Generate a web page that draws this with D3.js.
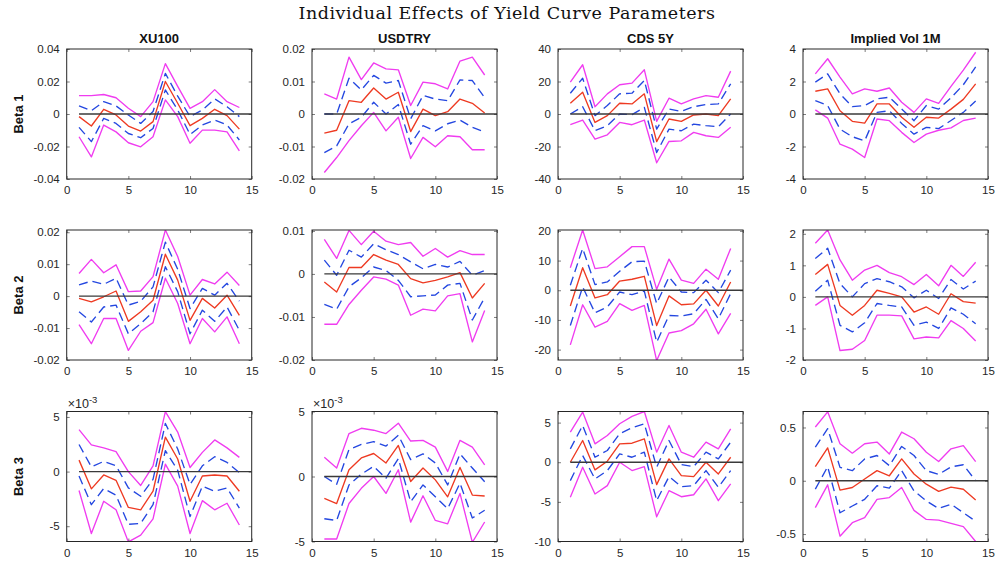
<!DOCTYPE html>
<html>
<head>
<meta charset="utf-8">
<script src="https://cdn.jsdelivr.net/npm/d3@7"></script>
<style>
  body { margin: 0; background: #fff; }
  svg { display: block; }
</style>
</head>
<body>
<svg id="chart" width="1005" height="563"></svg>
<script>
// Horizon steps (x axis)
const steps = [1, 2, 3, 4, 5, 6, 7, 8, 9, 10, 11, 12, 13, 14];

const assets = ["XU100", "USDTRY", "CDS 5Y", "Implied Vol 1M"];
const factors = ["Beta 1", "Beta 2", "Beta 3"];
const figureTitle = "Individual Effects of Yield Curve Parameters";

// Each response: [outer upper, inner upper, estimate, inner lower, outer lower]
const xu100Beta1 = [
  [0.0113, 0.0113, 0.0120, 0.0100, 0.0035, -0.0016, 0.0076, 0.0310, 0.0170, 0.0035, 0.0076, 0.0150, 0.0076, 0.0040],
  [0.0050, 0.0020, 0.0076, 0.0050, -0.0006, -0.0058, 0.0015, 0.0250, 0.0110, -0.0016, 0.0025, 0.0093, 0.0045, -0.0016],
  [-0.0016, -0.0074, 0.0029, -0.0006, -0.0074, -0.0105, -0.0047, 0.0200, 0.0066, -0.0072, -0.0027, 0.0029, -0.0010, -0.0093],
  [-0.0082, -0.0170, -0.0027, -0.0058, -0.0120, -0.0146, -0.0089, 0.0148, 0.0025, -0.0126, -0.0068, -0.0037, -0.0068, -0.0160],
  [-0.0140, -0.0264, -0.0068, -0.0110, -0.0177, -0.0202, -0.0140, 0.0087, -0.0016, -0.0180, -0.0099, -0.0099, -0.0110, -0.0227]
];
const usdtryBeta1 = [
  [0.0062, 0.0046, 0.0175, 0.0106, 0.0157, 0.0139, 0.0136, 0.0026, 0.0098, 0.0093, 0.0077, 0.0163, 0.0175, 0.0120],
  [0.0000, 0.0000, 0.0110, 0.0074, 0.0119, 0.0095, 0.0103, -0.0015, 0.0057, 0.0046, 0.0041, 0.0105, 0.0103, 0.0050],
  [-0.0059, -0.0050, 0.0041, 0.0036, 0.0080, 0.0046, 0.0067, -0.0054, 0.0015, -0.0005, 0.0007, 0.0046, 0.0033, 0.0003],
  [-0.0119, -0.0098, -0.0030, -0.0010, 0.0036, 0.0000, 0.0029, -0.0093, -0.0036, -0.0052, -0.0030, -0.0019, -0.0041, -0.0055],
  [-0.0180, -0.0134, -0.0082, -0.0036, 0.0005, -0.0052, -0.0010, -0.0137, -0.0072, -0.0101, -0.0067, -0.0070, -0.0110, -0.0110]
];
const cdsBeta1 = [
  [19.6, 30.3, 4.5, 12.4, 18.0, 19.0, 27.2, -4.5, 9.7, 6.2, 9.3, 11.3, 10.3, 26.4],
  [12.8, 22.0, -1.0, 5.2, 12.4, 12.8, 20.6, -9.3, 3.1, 1.6, 4.5, 5.8, 6.2, 18.6],
  [6.6, 13.4, -5.2, -1.0, 6.6, 6.2, 12.4, -17.0, -3.1, -4.5, -0.6, 0.0, -1.0, 9.3],
  [0.0, 4.5, -10.3, -7.2, 0.0, -0.4, 4.1, -23.7, -9.3, -10.3, -6.2, -7.2, -7.8, 0.0],
  [-6.6, -3.7, -15.5, -12.8, -5.2, -6.6, -3.7, -30.0, -16.9, -16.5, -11.3, -13.4, -14.4, -8.2]
];
const volBeta1 = [
  [2.47, 3.40, 2.27, 1.24, 1.55, 1.40, 1.60, 0.72, 0.10, 0.93, 0.65, 1.70, 2.70, 3.80],
  [1.96, 2.47, 1.24, 0.45, 0.52, 0.93, 1.03, 0.31, -0.41, 0.52, 0.30, 1.00, 1.80, 2.90],
  [1.40, 1.55, 0.20, -0.45, -0.56, 0.62, 0.62, -0.20, -0.82, -0.20, -0.25, 0.30, 0.90, 1.85],
  [0.82, 0.52, -0.93, -1.40, -1.65, 0.10, 0.20, -0.58, -1.24, -0.82, -0.90, -0.40, 0.10, 0.80],
  [0.25, -0.25, -1.86, -2.16, -2.68, -0.31, -0.41, -1.13, -1.75, -1.24, -1.00, -0.85, -0.40, -0.25]
];

const xu100Beta2 = [
  [0.0071, 0.0115, 0.0073, 0.0098, 0.0014, 0.0016, 0.0061, 0.0207, 0.0124, 0.0003, 0.0052, 0.0038, 0.0075, 0.0033],
  [0.0035, 0.0047, 0.0037, 0.0056, -0.0028, -0.0016, 0.0029, 0.0169, 0.0084, -0.0039, 0.0024, 0.0003, 0.0040, -0.0016],
  [-0.0007, -0.0018, -0.0002, 0.0016, -0.0079, -0.0049, -0.0013, 0.0131, 0.0050, -0.0076, -0.0007, -0.0037, 0.0003, -0.0060],
  [-0.0049, -0.0081, -0.0034, -0.0028, -0.0118, -0.0086, -0.0049, 0.0092, 0.0014, -0.0118, -0.0044, -0.0079, -0.0034, -0.0107],
  [-0.0089, -0.0149, -0.0070, -0.0070, -0.0170, -0.0110, -0.0083, 0.0056, -0.0023, -0.0149, -0.0070, -0.0112, -0.0065, -0.0149]
];
const usdtryBeta2 = [
  [0.0080, 0.0036, 0.0101, 0.0068, 0.0099, 0.0076, 0.0068, 0.0073, 0.0041, 0.0059, 0.0039, 0.0054, 0.0045, 0.0045],
  [0.0032, -0.0003, 0.0055, 0.0039, 0.0070, 0.0056, 0.0045, 0.0028, 0.0012, 0.0022, 0.0016, 0.0029, -0.0003, 0.0008],
  [-0.0019, -0.0042, 0.0015, 0.0015, 0.0045, 0.0032, 0.0022, -0.0011, -0.0021, -0.0015, -0.0007, 0.0003, -0.0056, -0.0022],
  [-0.0071, -0.0082, -0.0030, -0.0009, 0.0016, 0.0008, -0.0015, -0.0053, -0.0051, -0.0049, -0.0026, -0.0022, -0.0107, -0.0055],
  [-0.0117, -0.0117, -0.0071, -0.0038, -0.0007, -0.0012, -0.0026, -0.0096, -0.0082, -0.0086, -0.0051, -0.0046, -0.0158, -0.0085]
];
const cdsBeta2 = [
  [7.6, 20.3, 7.3, 7.9, 11.3, 14.7, 14.7, 0.3, 10.5, 3.4, 2.3, 7.1, 3.7, 14.1],
  [1.7, 14.1, 1.9, 2.8, 6.4, 9.6, 9.8, -4.5, 4.5, -0.6, -0.8, 3.4, -0.8, 6.8],
  [-5.3, 7.6, -2.6, -1.5, 3.1, 3.7, 4.7, -11.9, -1.9, -4.9, -4.6, 0.0, -5.3, 2.8],
  [-11.9, 1.1, -7.6, -5.6, -0.6, -1.5, -0.3, -17.5, -8.5, -8.7, -7.9, -3.1, -9.6, -1.1],
  [-18.4, -4.9, -12.4, -10.5, -4.5, -6.8, -5.1, -23.7, -14.4, -13.6, -11.3, -6.4, -14.7, -7.8]
];
const volBeta2 = [
  [1.70, 2.12, 1.17, 0.53, 0.85, 1.00, 0.77, 0.64, 0.39, 0.71, 0.35, 1.00, 0.65, 1.10],
  [1.22, 1.54, 0.42, 0.00, 0.42, 0.58, 0.48, 0.32, -0.03, 0.21, -0.05, 0.55, 0.25, 0.50],
  [0.71, 1.03, -0.27, -0.58, -0.27, 0.21, 0.11, 0.00, -0.48, -0.32, -0.55, 0.10, -0.15, -0.20],
  [0.18, 0.53, -0.90, -1.11, -0.82, -0.21, -0.27, -0.32, -0.90, -0.80, -1.00, -0.35, -0.55, -0.85],
  [-0.27, 0.00, -1.70, -1.66, -1.38, -0.58, -0.58, -0.60, -1.33, -1.27, -1.30, -0.75, -1.00, -1.40]
];

const xu100Beta3 = [
  [0.00384, 0.00245, 0.00217, 0.00183, 0.00000, -0.00127, 0.00053, 0.00548, 0.00362, 0.00037, 0.00176, 0.00290, 0.00217, 0.00130],
  [0.00248, 0.00043, 0.00093, 0.00053, -0.00149, -0.00226, -0.00071, 0.00440, 0.00207, -0.00118, 0.00053, 0.00136, 0.00084, -0.00009],
  [0.00105, -0.00158, -0.00031, -0.00080, -0.00328, -0.00350, -0.00180, 0.00316, 0.00115, -0.00272, -0.00040, -0.00031, -0.00040, -0.00180],
  [-0.00040, -0.00303, -0.00155, -0.00217, -0.00483, -0.00474, -0.00303, 0.00192, 0.00012, -0.00412, -0.00133, -0.00180, -0.00149, -0.00334],
  [-0.00173, -0.00567, -0.00272, -0.00350, -0.00644, -0.00582, -0.00433, 0.00068, -0.00133, -0.00567, -0.00266, -0.00350, -0.00290, -0.00489]
];
const usdtryBeta3 = [
  [0.00148, 0.00065, 0.00330, 0.00371, 0.00356, 0.00330, 0.00410, 0.00273, 0.00278, 0.00226, 0.00039, 0.00278, 0.00226, 0.00090],
  [0.00000, -0.00060, 0.00208, 0.00247, 0.00268, 0.00234, 0.00317, 0.00130, 0.00174, 0.00104, -0.00065, 0.00174, 0.00065, -0.00040],
  [-0.00169, -0.00208, 0.00052, 0.00143, 0.00177, 0.00104, 0.00239, -0.00039, 0.00065, -0.00026, -0.00156, 0.00070, -0.00143, -0.00150],
  [-0.00325, -0.00338, -0.00065, 0.00018, 0.00078, -0.00013, 0.00138, -0.00195, -0.00065, -0.00156, -0.00247, -0.00052, -0.00319, -0.00260],
  [-0.00481, -0.00481, -0.00208, -0.00091, 0.00000, -0.00130, 0.00052, -0.00351, -0.00148, -0.00338, -0.00364, -0.00130, -0.00506, -0.00350]
];
const cdsBeta3 = [
  [3.80, 6.33, 2.32, 3.38, 4.85, 5.78, 6.40, 1.27, 4.64, 1.27, 0.63, 2.53, 1.69, 4.22],
  [1.69, 4.64, 0.63, 1.48, 3.59, 4.35, 4.85, -0.63, 2.74, -0.30, -0.55, 1.27, 0.42, 2.53],
  [0.00, 2.74, -0.97, 0.13, 2.32, 2.40, 2.95, -2.83, 0.42, -1.69, -1.81, 0.00, -1.48, 0.63],
  [-2.32, 0.84, -2.11, -1.05, 1.05, 0.63, 1.27, -4.85, -1.81, -3.08, -2.95, -1.05, -3.16, -1.05],
  [-4.43, -0.63, -4.00, -2.95, 0.00, -1.05, -0.55, -6.88, -3.59, -4.35, -4.10, -2.11, -4.85, -2.74]
];
const volBeta3 = [
  [0.505, 0.647, 0.347, 0.259, 0.347, 0.363, 0.252, 0.457, 0.394, 0.268, 0.180, 0.300, 0.330, 0.180],
  [0.315, 0.489, 0.126, 0.095, 0.205, 0.237, 0.142, 0.322, 0.237, 0.095, 0.060, 0.130, 0.150, 0.000],
  [0.132, 0.309, -0.088, -0.063, 0.016, 0.095, 0.047, 0.205, 0.063, -0.032, -0.100, -0.060, -0.080, -0.180],
  [-0.079, 0.132, -0.300, -0.237, -0.174, -0.047, -0.069, 0.095, -0.095, -0.189, -0.260, -0.220, -0.300, -0.380],
  [-0.252, -0.038, -0.520, -0.394, -0.347, -0.174, -0.158, -0.063, -0.278, -0.363, -0.370, -0.400, -0.430, -0.570]
];

// Axis limits, ticks and tick labels, row by row
const yLimits = [
  [-0.04, 0.04], [-0.02, 0.02], [-40, 40], [-4, 4],
  [-0.02, 0.0207], [-0.02, 0.0102], [-23.5, 20.3], [-2, 2.12],
  [-0.0064, 0.0055], [-0.005, 0.005], [-10, 6.4], [-0.57, 0.65]
];
const yTickValues = [
  [-0.04, -0.02, 0, 0.02, 0.04], [-0.02, -0.01, 0, 0.01, 0.02], [-40, -20, 0, 20, 40], [-4, -2, 0, 2, 4],
  [-0.02, -0.01, 0, 0.01, 0.02], [-0.02, -0.01, 0, 0.01], [-20, -10, 0, 10, 20], [-2, -1, 0, 1, 2],
  [-0.005, 0, 0.005], [-0.005, 0, 0.005], [-10, -5, 0, 5], [-0.5, 0, 0.5]
];
const yTickLabels = [
  ["-0.04", "-0.02", "0", "0.02", "0.04"], ["-0.02", "-0.01", "0", "0.01", "0.02"], ["-40", "-20", "0", "20", "40"], ["-4", "-2", "0", "2", "4"],
  ["-0.02", "-0.01", "0", "0.01", "0.02"], ["-0.02", "-0.01", "0", "0.01"], ["-20", "-10", "0", "10", "20"], ["-2", "-1", "0", "1", "2"],
  ["-5", "0", "5"], ["-5", "0", "5"], ["-10", "-5", "0", "5"], ["-0.5", "0", "0.5"]
];
const xTickValues = [0, 5, 10, 15];
const xTickLabels = ["0", "5", "10", "15"];
const exponentPanels = [8, 9];   // panels whose ticks carry a x10^-3 multiplier

const responses = [
  xu100Beta1, usdtryBeta1, cdsBeta1, volBeta1,
  xu100Beta2, usdtryBeta2, cdsBeta2, volBeta2,
  xu100Beta3, usdtryBeta3, cdsBeta3, volBeta3
];

// Layout
const colLeft = [66.7, 312, 558, 803];
const rowTop = [49, 230, 411.5];
const panelW = 185, panelH = 130;

const seriesStyle = [
  { stroke: "#f03cf0", dash: null },
  { stroke: "#2447e0", dash: "9,5" },
  { stroke: "#ee3a22", dash: null },
  { stroke: "#2447e0", dash: "9,5" },
  { stroke: "#f03cf0", dash: null }
];

const svg = d3.select("#chart");
const axisColor = "#262626";
const font = "'Liberation Sans', Arial, sans-serif";

svg.append("text")
  .attr("x", 507).attr("y", 19)
  .attr("text-anchor", "middle")
  .attr("font-family", "'DejaVu Serif', serif")
  .attr("font-size", 17.5)
  .attr("letter-spacing", 0.5)
  .attr("fill", "#111")
  .text(figureTitle);

responses.forEach((bands, i) => {
  const r = Math.floor(i / 4), c = i % 4;
  const x0 = colLeft[c], y0 = rowTop[r];
  const g = svg.append("g").attr("transform", `translate(${x0},${y0})`);

  const x = d3.scaleLinear().domain([0, 15]).range([0, panelW]);
  const y = d3.scaleLinear().domain(yLimits[i]).range([panelH, 0]);

  const clipId = `clip-${i}`;
  g.append("clipPath").attr("id", clipId)
    .append("rect").attr("width", panelW).attr("height", panelH);

  const plot = g.append("g").attr("clip-path", `url(#${clipId})`);
  const line = d3.line().x((d, k) => x(steps[k])).y(d => y(d));

  bands.forEach((vals, s) => {
    const st = seriesStyle[s];
    plot.append("path")
      .datum(vals)
      .attr("d", line)
      .attr("fill", "none")
      .attr("stroke", st.stroke)
      .attr("stroke-width", 1.35)
      .attr("stroke-dasharray", st.dash)
      .attr("stroke-linejoin", "round");
  });

  // zero reference line
  plot.append("line")
    .attr("x1", x(1)).attr("x2", x(15))
    .attr("y1", y(0)).attr("y2", y(0))
    .attr("stroke", "#3a3a3a").attr("stroke-width", 1.3);

  // axes with inward ticks
  const yAxis = d3.axisLeft(y).tickValues(yTickValues[i])
    .tickFormat((d, k) => yTickLabels[i][k]).tickSize(-3).tickPadding(7);
  const xAxis = d3.axisBottom(x).tickValues(xTickValues)
    .tickFormat((d, k) => xTickLabels[k]).tickSize(-3).tickPadding(7);

  const ya = g.append("g").call(yAxis);
  const xa = g.append("g").attr("transform", `translate(0,${panelH})`).call(xAxis);
  const yr = g.append("g").attr("transform", `translate(${panelW},0)`)
    .call(d3.axisRight(y).tickValues(yTickValues[i]).tickFormat("").tickSize(-3));
  const xt = g.append("g")
    .call(d3.axisTop(x).tickValues(xTickValues).tickFormat("").tickSize(-3));

  [ya, xa, yr, xt].forEach(a => {
    a.select(".domain").remove();
    a.selectAll("line").attr("stroke", axisColor).attr("stroke-width", 0.6);
    a.selectAll("text").attr("font-family", font).attr("font-size", 11.5).attr("fill", axisColor);
  });

  g.append("rect")
    .attr("width", panelW).attr("height", panelH)
    .attr("fill", "none").attr("stroke", axisColor).attr("stroke-width", 1);

  if (exponentPanels.includes(i)) {
    const t = g.append("text").attr("x", 1).attr("y", -4)
      .attr("font-family", font).attr("font-size", 12.5).attr("fill", axisColor);
    t.append("tspan").text("×10");
    t.append("tspan").attr("dy", -5).attr("font-size", 9.5).text("-3");
  }

  if (r === 0) {
    g.append("text")
      .attr("x", panelW / 2).attr("y", -6)
      .attr("text-anchor", "middle")
      .attr("font-family", font).attr("font-weight", "bold").attr("font-size", 13)
      .attr("fill", "#111")
      .text(assets[c]);
  }
  if (c === 0) {
    g.append("text")
      .attr("transform", `translate(${18 - x0},${panelH / 2}) rotate(-90)`)
      .attr("text-anchor", "middle")
      .attr("dy", "0.35em")
      .attr("font-family", font).attr("font-weight", "bold").attr("font-size", 13)
      .attr("fill", "#111")
      .text(factors[r]);
  }
});
</script>
</body>
</html>
